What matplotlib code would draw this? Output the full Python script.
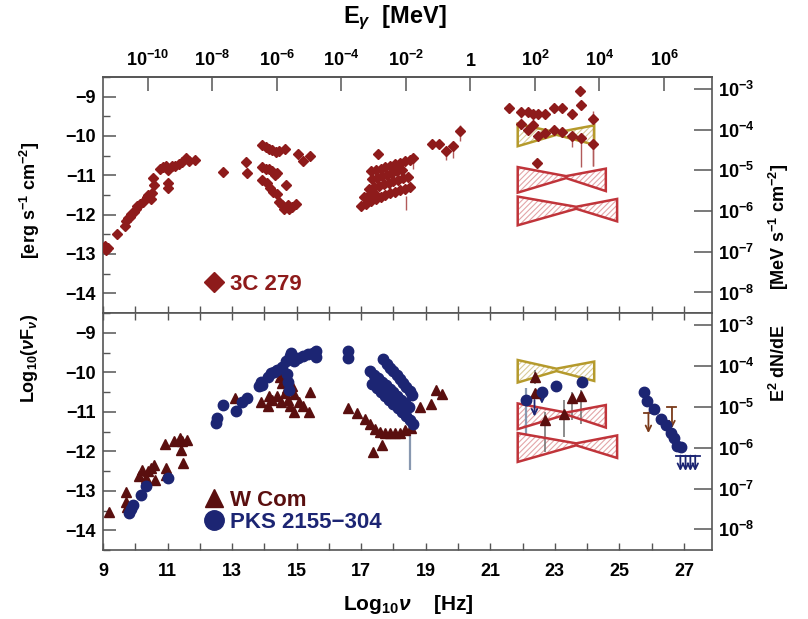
import numpy as np
import matplotlib
matplotlib.use("Agg")
import matplotlib.pyplot as plt
from matplotlib.patches import Polygon
from matplotlib.lines import Line2D

plt.rcParams['font.family'] = ['Liberation Sans', 'DejaVu Sans']
plt.rcParams['font.weight'] = 'bold'
plt.rcParams['mathtext.fontset'] = 'custom'
plt.rcParams['mathtext.rm'] = 'Liberation Sans:bold'
plt.rcParams['mathtext.it'] = 'Liberation Sans:italic:bold'
plt.rcParams['mathtext.bf'] = 'Liberation Sans:bold'
plt.rcParams['mathtext.default'] = 'regular'
plt.rcParams['hatch.linewidth'] = 0.8

# ---------------- data ----------------
# 3C 279 (upper panel), log10 nu [Hz], log10 nuFnu [erg/s/cm2]
c3_radio_x = [9.05, 9.10, 9.15, 9.44, 9.68, 9.71, 9.78, 9.83, 9.88, 9.96, 10.02, 10.06, 10.15, 10.25,
              10.35, 10.40, 10.48, 10.51, 10.54, 10.58, 10.77, 10.85, 10.96, 11.00, 11.00, 11.00,
              11.13, 11.24, 11.34, 11.44, 11.58, 11.65, 11.86]
c3_radio_y = [-12.80, -12.90, -12.85, -12.50, -12.30, -12.17, -12.09, -12.05, -11.99, -11.93, -11.85,
              -11.78, -11.72, -11.67, -11.56, -11.50, -11.60, -11.46, -11.07, -11.24, -10.83, -10.80,
              -10.77, -10.87, -11.20, -11.32, -10.77, -10.75, -10.71, -10.67, -10.56, -10.63, -10.60]
c3_opt_x = [12.72, 13.44, 13.47, 13.94, 14.05, 14.15, 14.25, 14.36, 14.46, 14.64,
            13.94, 14.05, 14.15, 14.25, 14.33, 14.40, 13.94, 14.08, 14.18, 14.28, 14.40, 14.67,
            14.46, 14.56, 14.66, 14.77, 14.87, 14.98, 14.62, 14.72, 15.04, 15.20, 15.40]
c3_opt_y = [-10.91, -10.67, -10.95, -10.22, -10.28, -10.32, -10.36, -10.40, -10.38, -10.33,
            -10.79, -10.85, -10.83, -10.90, -10.98, -10.93, -11.11, -11.20, -11.33, -11.42, -11.48, -11.24,
            -11.68, -11.76, -11.80, -11.85, -11.80, -11.72, -11.85, -11.75, -10.46, -10.63, -10.52]
c3_xa_x = [17.30, 17.45, 17.60, 17.75, 17.90, 18.05, 18.20, 18.35, 18.50, 18.62]
c3_xa_y = [-10.90, -10.86, -10.83, -10.79, -10.75, -10.72, -10.68, -10.64, -10.60, -10.55]
c3_xb_x = [17.35, 17.50, 17.65, 17.80, 17.95, 18.10, 18.25]
c3_xb_y = [-11.10, -11.06, -11.02, -10.98, -10.94, -10.90, -10.86]
c3_xc_x = [17.25, 17.40, 17.55, 17.70, 17.85, 18.00, 18.15, 18.30, 18.45]
c3_xc_y = [-11.35, -11.30, -11.26, -11.22, -11.19, -11.15, -11.11, -11.08, -11.05]
c3_xd_x = [17.00, 17.15, 17.30, 17.45, 17.60, 17.75, 17.90, 18.05, 18.20, 18.35, 18.50]
c3_xd_y = [-11.78, -11.72, -11.66, -11.60, -11.55, -11.50, -11.46, -11.42, -11.38, -11.34, -11.30]
c3_xe_x = [17.10, 17.25, 17.40, 17.51]
c3_xe_y = [-11.55, -11.50, -11.45, -10.45]
c3_hx_x = [19.19, 19.42, 19.64, 19.85, 20.06]
c3_hx_y = [-10.20, -10.20, -10.37, -10.26, -9.87]
c3_gam_x = [21.57, 21.95, 22.16, 22.32, 22.47, 22.70, 22.96, 23.22, 23.53, 23.79, 23.82, 24.17,
            21.95, 22.18, 22.32, 22.47, 22.70, 22.96, 23.22, 23.53, 23.82, 24.17, 22.44]
c3_gam_y = [-9.30, -9.39, -9.38, -9.43, -9.45, -9.43, -9.30, -9.30, -9.45, -8.86, -9.21, -9.57,
            -9.70, -9.85, -9.73, -10.01, -9.93, -9.85, -9.89, -10.01, -10.06, -10.20, -10.69]
# vertical error bars 3C 279: x, y_low, y_high
c3_err_x = [18.62, 18.38, 19.64, 19.85, 20.06, 21.57, 21.95, 24.17, 23.53, 23.82, 24.17]
c3_err_lo = [-10.85, -11.89, -10.60, -10.55, -10.13, -9.42, -9.55, -10.75, -10.29, -10.79, -10.75]
c3_err_hi = [-10.50, -11.52, -10.30, -10.20, -9.72, -9.22, -9.30, -9.37, -9.95, -9.95, -10.10]

# W Com (lower panel)
wc_x = [9.19, 9.71, 9.72, 9.74, 10.12, 10.20, 10.33, 10.40, 10.50, 10.58, 10.60, 10.93, 10.96, 10.96,
        11.19, 11.39, 11.45, 11.60, 11.42, 11.47,
        13.08, 13.89, 14.10, 14.15, 14.25, 14.40, 14.50, 14.48, 14.56, 14.64, 14.73, 14.78, 14.85,
        14.91, 14.93, 15.08, 15.19, 15.38, 15.40, 14.62, 14.70, 14.75,
        16.60, 16.86, 17.12, 17.28, 17.43, 17.59, 17.74, 17.90, 18.06, 18.21, 18.37, 18.53, 17.64,
        17.38, 18.83, 19.17, 19.33, 19.51,
        22.40, 22.40, 22.71, 23.28, 23.53, 23.82]
wc_y = [-13.53, -13.04, -13.28, -13.41, -12.62, -12.47, -12.68, -12.51, -12.43, -12.35, -12.72, -11.82,
        -12.43, -12.59, -11.74, -11.66, -11.74, -11.72, -11.98, -12.31,
        -10.64, -10.76, -10.85, -10.60, -10.69, -10.60, -10.76, -10.11, -10.28, -10.52, -10.69, -10.85,
        -10.36, -11.00, -10.56, -10.76, -10.85, -11.00, -10.50, -10.20, -10.40, -10.25,
        -10.90, -11.02, -11.18, -11.30, -11.43, -11.50, -11.54, -11.54, -11.54, -11.54, -11.46,
        -11.40, -11.83, -12.01, -10.88, -10.81, -10.45, -10.55,
        -10.12, -10.53, -11.22, -11.06, -10.65, -10.61]
wc_err_x = [22.40, 22.71, 23.28, 23.53, 23.82]
wc_err_lo = [-10.30, -12.02, -11.63, -11.22, -11.30]
wc_err_hi = [-9.95, -11.00, -10.69, -10.50, -10.45]
wc_ul_x = [25.90, 26.63]
wc_ul_cap = [-11.02, -10.89]
wc_ul_tip = [-11.54, -11.42]

# PKS 2155-304 (lower panel)
pk_x = [9.81, 9.88, 9.94, 10.17, 10.33, 11.00, 12.49, 12.54, 12.73, 13.11, 13.32, 13.46, 13.84,
        13.89, 13.94, 14.10, 14.20, 14.30, 14.40, 14.56, 14.67, 14.83, 14.78, 14.93, 15.03, 15.19,
        15.34, 15.50, 15.61, 15.61, 14.70, 14.72, 14.75, 16.59, 16.59,
        22.10, 22.60, 23.04, 23.85,
        25.75, 25.86, 26.07, 26.28, 26.44, 26.59, 26.70, 26.80, 26.90]
pk_y = [-13.57, -13.45, -13.37, -13.12, -12.88, -12.67, -11.29, -11.17, -10.83, -10.97, -10.76,
        -10.64, -10.36, -10.24, -10.32, -10.11, -10.03, -9.99, -9.95, -9.87, -9.71, -9.50, -9.60,
        -9.71, -9.63, -9.59, -9.54, -9.50, -9.45, -9.61, -10.05, -10.25, -10.45, -9.45, -9.64,
        -10.69, -10.49, -10.35, -10.24,
        -10.49, -10.73, -10.93, -11.18, -11.34, -11.54, -11.66, -11.87, -11.88]
pk_x1 = [17.69, 17.80, 17.90, 18.00, 18.10, 18.20, 18.30, 18.40, 18.50, 18.57]
pk_y1 = [-9.67, -9.78, -9.88, -9.98, -10.08, -10.18, -10.28, -10.38, -10.48, -10.57]
pk_x2 = [17.27, 17.40, 17.52, 17.64, 17.76, 17.88, 18.00, 18.12, 18.24, 18.36, 18.48]
pk_y2 = [-9.96, -10.06, -10.15, -10.24, -10.33, -10.42, -10.51, -10.60, -10.69, -10.78, -10.87]
pk_x3 = [17.35, 17.48, 17.61, 17.74, 17.87, 18.00, 18.13, 18.26, 18.39, 18.52, 18.62]
pk_y3 = [-10.30, -10.40, -10.50, -10.60, -10.70, -10.80, -10.90, -11.00, -11.10, -11.20, -11.30]
pk_err_x = [18.52, 22.10, 23.04, 23.85]
pk_err_lo = [-12.48, -11.59, -10.45, -10.40]
pk_err_hi = [-11.17, -10.41, -10.25, -10.10]
pk_ul_x = [22.37, 22.60, 26.89, 27.05, 27.20, 27.35]
pk_ul_cap = [-10.70, -10.55, -12.11, -12.11, -12.11, -12.11]
pk_ul_tip = [-11.12, -10.80, -12.50, -12.50, -12.50, -12.50]
pk_ul_hascap = [False, False, True, True, True, True]

# sensitivity bow-ties: x (left, pivot, right), upper and lower edges
bt_yel_x = [21.85, 23.05, 24.22]
bt_yel_up = [-9.69, -9.91, -9.73]
bt_yel_lo = [-10.26, -9.97, -10.22]
bt_r1_x = [21.85, 23.35, 24.58]
bt_r1_up = [-10.79, -11.02, -10.83]
bt_r1_lo = [-11.44, -11.07, -11.40]
bt_r2_x = [21.85, 23.66, 24.93]
bt_r2_up = [-11.54, -11.80, -11.60]
bt_r2_lo = [-12.27, -11.85, -12.17]

# axis tick definitions
x_major = list(range(9, 28))
x_labels = [9, 11, 13, 15, 17, 19, 21, 23, 25, 27]
y_major = [-14, -13, -12, -11, -10, -9]
right_dec = [-8, -7, -6, -5, -4, -3]
top_dec = [-10, -8, -6, -4, -2, 0, 2, 4, 6]

# ---------------- style ----------------
C3 = '#8e1b1b'
WC = '#5a0f0f'
PK = '#1c2573'
YEL = '#b59a2c'
YEL_H = '#d9cc99'
RED = '#c0343a'
RED_H = '#e3a5a8'
FRAME = '#555555'

LOG_H_MEV = -20.3835   # log10(h / MeV s)
ERG2MEV = 5.7953       # log10(MeV per erg)
XLIM = (9.0, 27.87)
YLIM = (-14.3, -8.5)

fig = plt.figure(figsize=(8.08, 6.19), dpi=100)
L, R = 103 / 808, 712 / 808
ax1 = fig.add_axes([L, 1 - 313 / 619, R - L, 236 / 619])
ax2 = fig.add_axes([L, 1 - 550 / 619, R - L, 237 / 619])


def style_axes(ax):
    ax.set_xlim(*XLIM)
    ax.set_ylim(*YLIM)
    for s in ax.spines.values():
        s.set_color(FRAME)
        s.set_linewidth(1.2)
    ax.set_xticks(x_major)
    ax.set_yticks(y_major)
    ax.set_yticklabels(['\u2212%d' % abs(v) for v in y_major])
    ax.set_yticks(np.arange(-14.5, -8.4, 1.0), minor=True)
    ax.tick_params(axis='y', which='major', direction='in', length=9, width=1.1,
                   color=FRAME, labelsize=13, right=False, pad=5)
    ax.tick_params(axis='y', which='minor', direction='in', length=5, width=1.0,
                   color=FRAME, right=False)
    ax.tick_params(axis='x', which='major', direction='in', length=5, width=1.0,
                   color=FRAME, labelsize=13, top=True, pad=9)
    ax.tick_params(axis='x', which='minor', length=0)
    # right energy-flux axis
    axr = ax.twinx()
    axr.set_ylim(YLIM[0] + ERG2MEV, YLIM[1] + ERG2MEV)
    axr.set_yticks(right_dec)
    axr.set_yticklabels([r'$10^{%d}$' % v for v in right_dec])
    axr.tick_params(axis='y', direction='in', length=13, width=1.1, color=FRAME,
                    labelsize=13, pad=4)
    for s in axr.spines.values():
        s.set_visible(False)
    return axr


axr1 = style_axes(ax1)
axr2 = style_axes(ax2)
ax1.tick_params(axis='x', labelbottom=False, top=False)
ax2.set_xticklabels([str(v) if v in x_labels else '' for v in x_major])

secax = ax1.secondary_xaxis('top', functions=(lambda x: x + LOG_H_MEV, lambda e: e - LOG_H_MEV))
secax.set_xticks(top_dec)
secax.set_xticklabels(['1' if v == 0 else r'$10^{%d}$' % v for v in top_dec])
secax.tick_params(direction='in', length=10, width=1.1, color=FRAME, labelsize=13, pad=5)
secax.spines['top'].set_color(FRAME)
secax.spines['top'].set_linewidth(1.2)


def bowtie(ax, xs, up, lo, edge, hatchc):
    pts = list(zip(xs, up)) + list(zip(xs[::-1], lo[::-1]))
    ax.add_patch(Polygon(pts, closed=True, fill=False, hatch='//////',
                         edgecolor=hatchc, linewidth=0, zorder=2))
    ax.add_patch(Polygon(pts, closed=True, fill=False, edgecolor=edge,
                         linewidth=1.8, zorder=3, joinstyle='miter'))


def errs(ax, xs, lo, hi, col, lw=1.0):
    ax.vlines(xs, lo, hi, colors=col, linewidth=lw, zorder=2)


def ulims(ax, xs, caps, tips, col, hascap=None):
    for i, (x, c, t) in enumerate(zip(xs, caps, tips)):
        if hascap is None or hascap[i]:
            ax.plot([x - 0.14, x + 0.14], [c, c], color=col, lw=1.3, zorder=4)
        ax.annotate('', xy=(x, t), xytext=(x, c),
                    arrowprops=dict(arrowstyle='->', color=col, lw=1.3,
                                    shrinkA=0, shrinkB=0, mutation_scale=10), zorder=4)


for ax in (ax1, ax2):
    bowtie(ax, bt_yel_x, bt_yel_up, bt_yel_lo, YEL, YEL_H)
    bowtie(ax, bt_r1_x, bt_r1_up, bt_r1_lo, RED, RED_H)
    bowtie(ax, bt_r2_x, bt_r2_up, bt_r2_lo, RED, RED_H)

# upper panel: 3C 279
errs(ax1, c3_err_x, c3_err_lo, c3_err_hi, '#b25a5a', 1.0)
mk = dict(marker='D', ms=5.3, color=C3, ls='none', zorder=5, mec=C3)
for xs, ys in [(c3_radio_x, c3_radio_y), (c3_opt_x, c3_opt_y), (c3_xa_x, c3_xa_y),
               (c3_xb_x, c3_xb_y), (c3_xc_x, c3_xc_y), (c3_xd_x, c3_xd_y),
               (c3_xe_x, c3_xe_y), (c3_hx_x, c3_hx_y), (c3_gam_x, c3_gam_y)]:
    ax1.plot(xs, ys, **mk)

# lower panel
errs(ax2, wc_err_x, wc_err_lo, wc_err_hi, '#6e6e6e', 1.1)
errs(ax2, pk_err_x, pk_err_lo, pk_err_hi, '#8898b0', 1.6)
ax2.plot(wc_x, wc_y, marker='^', ms=7, color=WC, ls='none', zorder=5)
ulims(ax2, wc_ul_x, wc_ul_cap, wc_ul_tip, '#7a3a1a')
pmk = dict(marker='o', ms=7.5, color=PK, ls='none', zorder=6)
for xs, ys in [(pk_x, pk_y), (pk_x1, pk_y1), (pk_x2, pk_y2), (pk_x3, pk_y3)]:
    ax2.plot(xs, ys, **pmk)
ulims(ax2, pk_ul_x, pk_ul_cap, pk_ul_tip, PK, pk_ul_hascap)

# legends
h1 = [Line2D([], [], marker='D', ms=10, color=C3, ls='none')]
lg1 = ax1.legend(h1, ['3C 279'], loc='lower left', bbox_to_anchor=(0.135, 0.01),
                 frameon=False, handletextpad=0.1, fontsize=16, labelcolor=[C3],
                 handlelength=1.2, borderpad=0.2)
h2 = [Line2D([], [], marker='^', ms=13, color=WC, ls='none'),
      Line2D([], [], marker='o', ms=14, color=PK, ls='none')]
ax2.legend(h2, ['W Com', 'PKS 2155\u2212304'], loc='lower left', bbox_to_anchor=(0.135, 0.005),
           frameon=False, handletextpad=0.1, fontsize=16, labelcolor=[WC, PK],
           handlelength=1.2, labelspacing=0.05, borderpad=0.2)

# axis titles
fig.text(395 / 808, 1 - 18 / 619, r'E$_{\mathit{\gamma}}$  [MeV]', ha='center', va='center', fontsize=17)
fig.text(408 / 808, 1 - 604 / 619, r'Log$_{10}$$\mathit{\nu}$    [Hz]', ha='center', va='center', fontsize=15)
fig.text(30 / 808, 1 - 200 / 619, r'[erg s$^{-1}$ cm$^{-2}$]', rotation=90, ha='center', va='center', fontsize=13)
fig.text(30 / 808, 1 - 358 / 619, r'Log$_{10}$($\mathit{\nu}$F$_{\mathit{\nu}}$)', rotation=90, ha='center', va='center', fontsize=13)
fig.text(779 / 808, 1 - 227 / 619, r'[MeV s$^{-1}$ cm$^{-2}$]', rotation=90, ha='center', va='center', fontsize=13)
fig.text(779 / 808, 1 - 363 / 619, r'E$^2$ dN/dE', rotation=90, ha='center', va='center', fontsize=13)

fig.savefig('out.png', dpi=100)
